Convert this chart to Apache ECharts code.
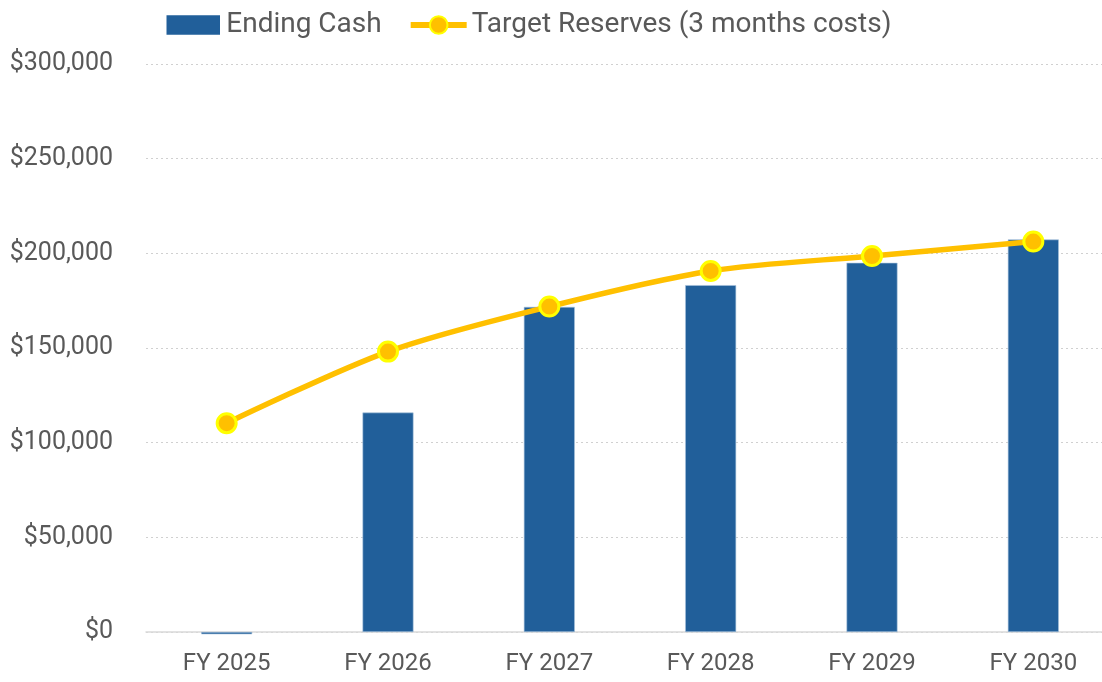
<!DOCTYPE html>
<html>
<head>
<meta charset="utf-8">
<script src="https://cdn.jsdelivr.net/npm/echarts@6/dist/echarts.min.js"></script>
<style>
  html, body { margin: 0; padding: 0; background: #ffffff; }
  #chart { width: 1102px; height: 682px; }
</style>
</head>
<body>
<div id="chart"></div>
<script>
const categories = ['FY 2025', 'FY 2026', 'FY 2027', 'FY 2028', 'FY 2029', 'FY 2030'];
const endingCash = [-1200, 115900, 171700, 183200, 195000, 207300];
const targetReserves = [110300, 148100, 171900, 190700, 198600, 206200];
const yTicks = [0, 50000, 100000, 150000, 200000, 250000, 300000];

const chart = echarts.init(document.getElementById('chart'), null, { renderer: 'canvas' });
const fontFamily = 'Roboto, "Liberation Sans", sans-serif';
const textColor = '#595959';

chart.setOption({
  animation: false,
  backgroundColor: '#ffffff',
  legend: {
    left: 159,
    top: 6,
    itemGap: 26,
    itemWidth: 56,
    itemHeight: 22,
    textStyle: { fontFamily: fontFamily, fontSize: 28, color: textColor },
    data: [
      { name: 'Ending Cash', icon: 'rect', itemStyle: { borderColor: '#ffffff', borderWidth: 2.5 } },
      { name: 'Target Reserves (3 months costs)', lineStyle: { width: 6 } }
    ]
  },
  grid: { left: 146, width: 968, top: 64, bottom: 50, containLabel: false, outerBoundsMode: 'none' },
  xAxis: {
    type: 'category',
    data: categories,
    axisLine: { show: true, onZero: false, lineStyle: { color: '#D9D9D9', width: 1.5 } },
    axisTick: { show: false },
    axisLabel: { fontFamily: fontFamily, fontSize: 24, color: textColor, margin: 20 }
  },
  yAxis: {
    type: 'value',
    min: yTicks[0],
    max: yTicks[yTicks.length - 1],
    interval: 50000,
    axisLine: { show: false },
    axisTick: { show: false },
    splitLine: { lineStyle: { color: '#D0D0D0', type: [2, 3], width: 1 } },
    axisLabel: {
      fontFamily: fontFamily, fontSize: 25, color: textColor, margin: 33,
      formatter: v => '$' + v.toLocaleString('en-US')
    }
  },
  series: [
    {
      name: 'Ending Cash',
      type: 'bar',
      data: endingCash,
      barWidth: '31.6%',
      clip: false,
      itemStyle: { color: '#215F9A', borderColor: '#A8C2DC', borderWidth: 0.6 },
      z: 2
    },
    {
      name: 'Target Reserves (3 months costs)',
      type: 'line',
      data: targetReserves,
      smooth: 0.3,
      symbol: 'circle',
      symbolSize: 19,
      lineStyle: { color: '#FFC000', width: 5.5 },
      itemStyle: { color: '#FFC000', borderColor: '#FFFF00', borderWidth: 3 },
      z: 3
    }
  ]
});
</script>
</body>
</html>
